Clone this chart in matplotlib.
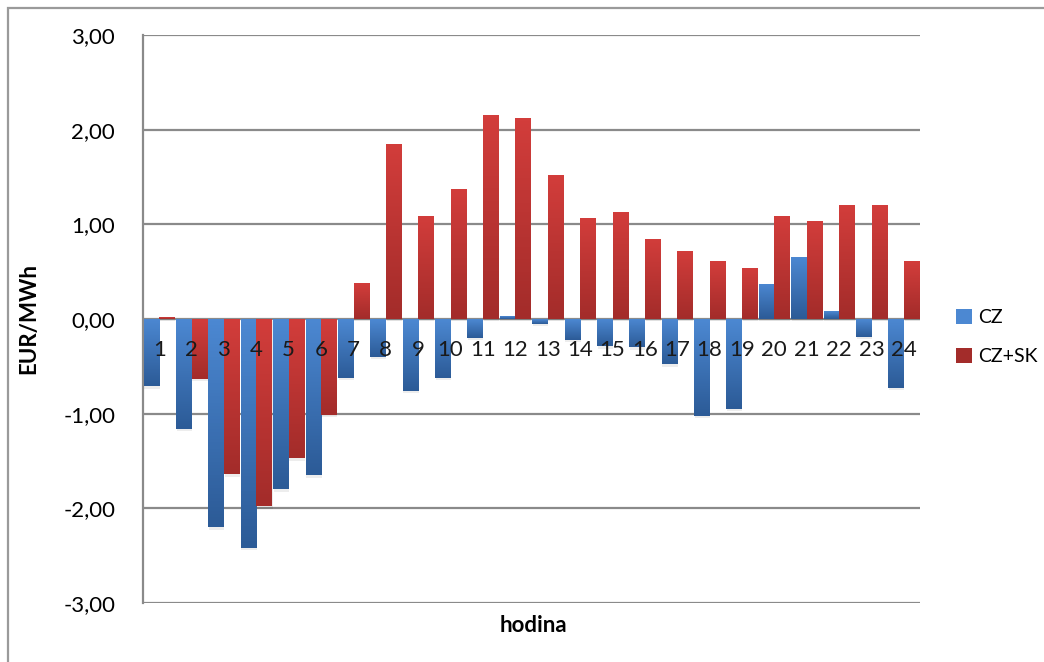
import matplotlib
matplotlib.use("Agg")
import matplotlib.pyplot as plt
import numpy as np
from matplotlib.colors import LinearSegmentedColormap
from matplotlib.patches import Rectangle

plt.rcParams["font.family"] = ["Lato", "DejaVu Sans"]

# hourly price differences, EUR/MWh
HOURS = [str(h) for h in range(1, 25)]
CZ = [-0.71, -1.16, -2.20, -2.42, -1.80, -1.65, -0.62, -0.40, -0.76, -0.62,
      -0.20, 0.03, -0.05, -0.22, -0.29, -0.30, -0.48, -1.02, -0.95, 0.37,
      0.66, 0.08, -0.19, -0.73]
CZ_SK = [0.02, -0.63, -1.64, -1.98, -1.47, -1.01, 0.38, 1.85, 1.09, 1.37,
         2.15, 2.12, 1.52, 1.07, 1.13, 0.85, 0.72, 0.61, 0.54, 1.09,
         1.03, 1.20, 1.20, 0.61]
Y_TICKS = [-3, -2, -1, 0, 1, 2, 3]

BLUE = ("#4c88d2", "#2c5b97")
RED = ("#d23d3b", "#a32c2a")
GRID = "#8a8a8a"
FS = 16


def shade_bars(ax, bars, top, bottom):
    # vertical gradient, lighter at the top of every bar
    cmap = LinearSegmentedColormap.from_list("g", [bottom, top])
    grad = np.linspace(0, 1, 64).reshape(-1, 1)
    for p in bars:
        x0, y0 = p.get_x(), p.get_y()
        w, h = p.get_width(), p.get_height()
        lo, hi = min(y0, y0 + h), max(y0, y0 + h)
        if hi - lo < 1e-6:
            continue
        ax.add_patch(Rectangle((x0 + 0.02, lo - 0.025), w, hi - lo,
                               facecolor="#000000", alpha=0.07, lw=0, zorder=2))
        im = ax.imshow(grad, cmap=cmap, origin="lower", aspect="auto",
                       extent=(x0, x0 + w, lo, hi), zorder=3)
        im.set_clip_path(p)
        p.set_facecolor(top)


fig = plt.figure(figsize=(10.44, 6.62), dpi=100)
fig.add_artist(Rectangle((8 / 1044, -0.1), 1.2, 1 - 8 / 662 + 0.1,
                         transform=fig.transFigure, fill=False,
                         edgecolor="#9a9a9a", lw=1.6))
ax = fig.add_axes([143 / 1044, 1 - 603 / 662, (920 - 143) / 1044, (603 - 35) / 662])

x = np.arange(len(HOURS))
w = 0.475
b_cz = ax.bar(x - w / 2 - 0.005, CZ, width=w, color=BLUE[0], lw=0, zorder=3, label="CZ")
b_sk = ax.bar(x + w / 2 + 0.005, CZ_SK, width=w, color=RED[0], lw=0, zorder=3, label="CZ+SK")
shade_bars(ax, b_cz, *BLUE)
shade_bars(ax, b_sk, *RED)

ax.set_xlim(-0.5, len(HOURS) - 0.5)
ax.set_ylim(-3, 3)
ax.set_yticks(Y_TICKS)
ax.set_yticklabels([f"{v:.2f}".replace(".", ",") for v in Y_TICKS], fontsize=FS)
ax.yaxis.grid(True, color=GRID, lw=1.6, zorder=1)
ax.set_axisbelow(True)

# category labels sit just under the zero line
ax.spines["bottom"].set_position(("data", 0))
ax.spines["bottom"].set_visible(False)
ax.set_xticks(x)
ax.set_xticklabels(HOURS, fontsize=FS, color="#1a1a1a")
ax.tick_params(axis="x", length=0, pad=15)
ax.tick_params(axis="y", length=0, pad=20)
ax.xaxis.set_zorder(5)

for s in ("top", "right"):
    ax.spines[s].set_visible(False)
ax.spines["left"].set_color(GRID)
ax.spines["left"].set_linewidth(1.6)

fig.text(29 / 1044, 1 - 318 / 662, "EUR/MWh", fontsize=FS, fontweight="bold",
         rotation=90, ha="center", va="center")
fig.text(533 / 1044, 1 - 625 / 662, "hodina", fontsize=FS, fontweight="bold",
         ha="center", va="center")

leg = fig.legend(handles=[b_cz, b_sk], loc="center left",
                 bbox_to_anchor=(956 / 1044, 1 - 337 / 662), borderaxespad=0,
                 borderpad=0, frameon=False, fontsize=14, handlelength=0.8,
                 handleheight=0.8, handletextpad=0.35, labelspacing=1.15)
for h, c in zip(leg.legend_handles, (BLUE[0], RED[1])):
    h.set_facecolor(c)

fig.savefig("out.png", dpi=100)
